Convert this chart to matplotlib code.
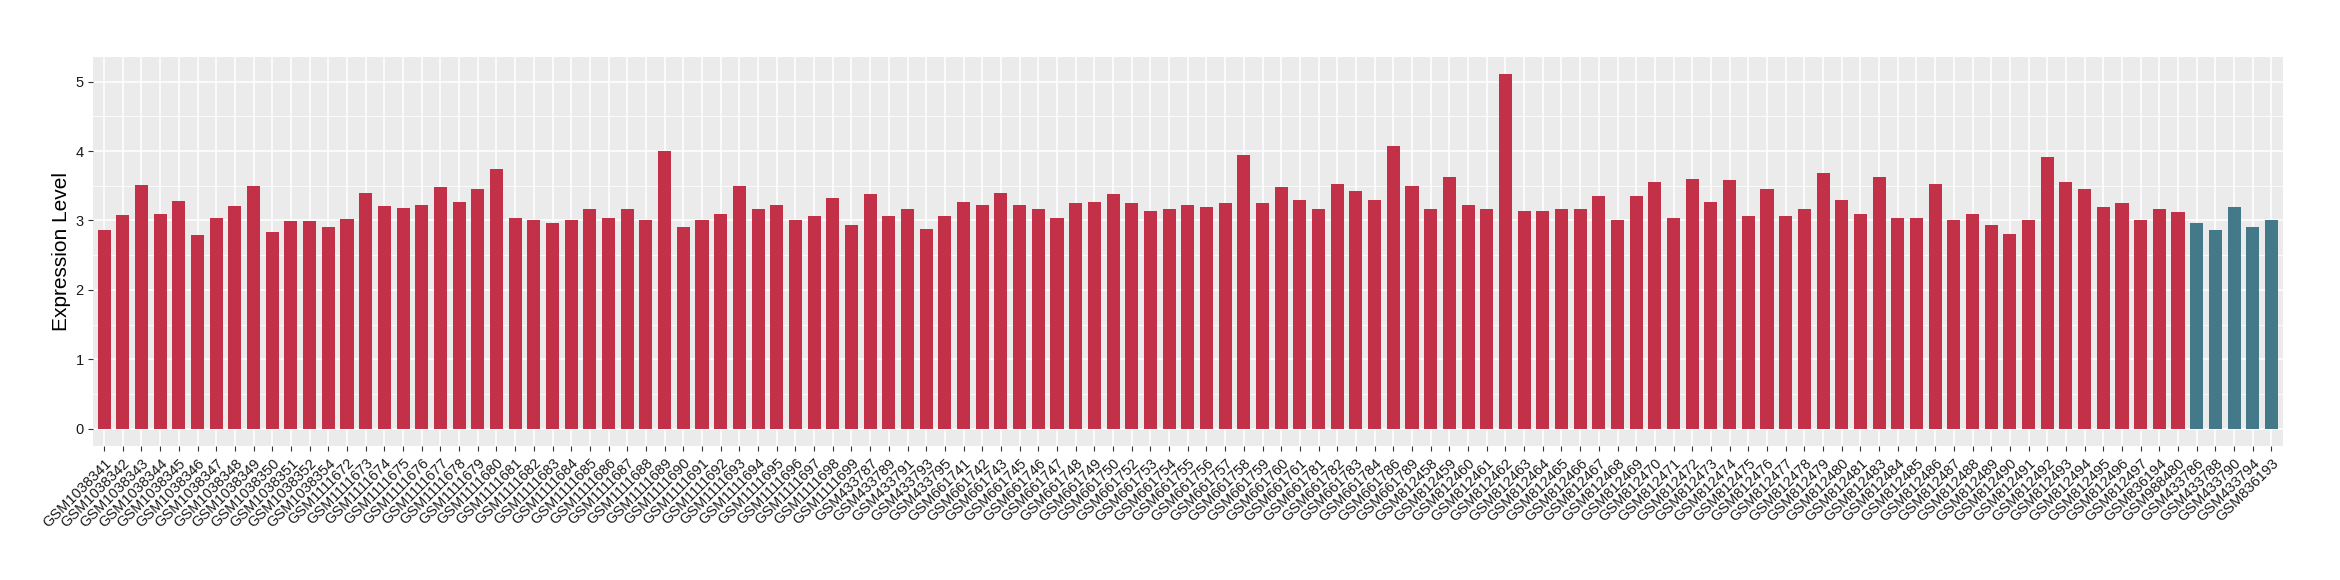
import matplotlib
matplotlib.use('Agg')
import matplotlib.pyplot as plt
import numpy as np

# sample names (x axis)
samples = (
    ['GSM10383%02d' % n for n in [41, 42, 43, 44, 45, 46, 47, 48, 49, 50, 51, 52, 54]]
    + ['GSM1111%03d' % n for n in range(672, 700)]
    + ['GSM433787', 'GSM433789', 'GSM433791', 'GSM433793', 'GSM433795']
    + ['GSM661%03d' % n for n in [741, 742, 743, 745, 746, 747, 748, 749, 750, 752, 753, 754,
                                  755, 756, 757, 758, 759, 760, 761, 781, 782, 783, 784, 786, 789]]
    + ['GSM812%03d' % n for n in list(range(458, 482)) + list(range(483, 498))]
    + ['GSM836194', 'GSM988480']
    + ['GSM433786', 'GSM433788', 'GSM433790', 'GSM433794', 'GSM836193']
)

# expression values
expression = [
    2.86, 3.08, 3.51, 3.09, 3.28, 2.79, 3.04, 3.21, 3.50, 2.83, 2.99, 2.99, 2.91,
    3.02, 3.40, 3.21, 3.18, 3.22, 3.48, 3.26, 3.45, 3.74, 3.03, 3.01, 2.97, 3.01,
    3.17, 3.03, 3.17, 3.01, 4.00, 2.90, 3.00, 3.10, 3.50, 3.16, 3.22, 3.00, 3.07,
    3.33, 2.93,
    3.375, 3.06, 3.17, 2.88, 3.07,
    3.27, 3.23, 3.39, 3.23, 3.16, 3.04, 3.25, 3.26, 3.375, 3.25, 3.13, 3.17, 3.22,
    3.19, 3.25, 3.94, 3.25, 3.48, 3.29, 3.16, 3.53, 3.42, 3.30, 4.07, 3.50,
    3.17, 3.62, 3.22, 3.16, 5.11, 3.13, 3.13, 3.16, 3.16, 3.36, 3.01, 3.35, 3.55,
    3.04, 3.60, 3.26, 3.59, 3.06, 3.46, 3.07, 3.17, 3.69, 3.29, 3.10, 3.62, 3.04,
    3.04, 3.52, 3.00, 3.09, 2.94, 2.80, 3.01, 3.91, 3.55, 3.46, 3.20, 3.25, 3.01,
    3.16, 3.12,
    2.96, 2.87, 3.19, 2.91, 3.00,
]

# last five samples belong to the second group
group = ['a'] * (len(samples) - 5) + ['b'] * 5
palette = {'a': '#C33149', 'b': '#44798A'}

plt.rcParams['font.family'] = ['Liberation Sans', 'DejaVu Sans']

fig = plt.figure(figsize=(23.4, 5.8), dpi=100)
ax = fig.add_axes([0.0397, 0.2316, 0.9358, 0.6706])

x = np.arange(len(samples))
ax.bar(x, expression, width=0.7, color=[palette[g] for g in group], zorder=3)

# ggplot-like panel
ax.set_facecolor('#EBEBEB')
for s in ax.spines.values():
    s.set_visible(False)
ax.set_xlim(-0.6, len(samples) - 0.4)
ax.set_ylim(-0.245, 5.36)
ax.set_yticks([0, 1, 2, 3, 4, 5])
ax.set_yticks(np.arange(0.5, 5.5, 1.0), minor=True)
ax.grid(True, which='major', color='white', linewidth=1.1, zorder=0)
ax.grid(True, which='minor', axis='y', color='white', linewidth=0.55, zorder=0)
ax.set_axisbelow(True)

ax.set_xticks(x)
ax.set_xticklabels(samples, rotation=45, ha='right', va='top', rotation_mode='anchor',
                   fontsize=10.5, color='#1A1A1A')
ax.tick_params(axis='both', which='major', length=3.5, width=0.8, color='#333333')
ax.tick_params(axis='y', which='minor', length=0)
ax.tick_params(axis='y', labelsize=10.5, labelcolor='#1A1A1A', pad=3)
ax.tick_params(axis='x', pad=4)

ax.set_ylabel('Expression Level', fontsize=15, color='black', labelpad=3)

fig.savefig('out.png', dpi=100, facecolor='white')
